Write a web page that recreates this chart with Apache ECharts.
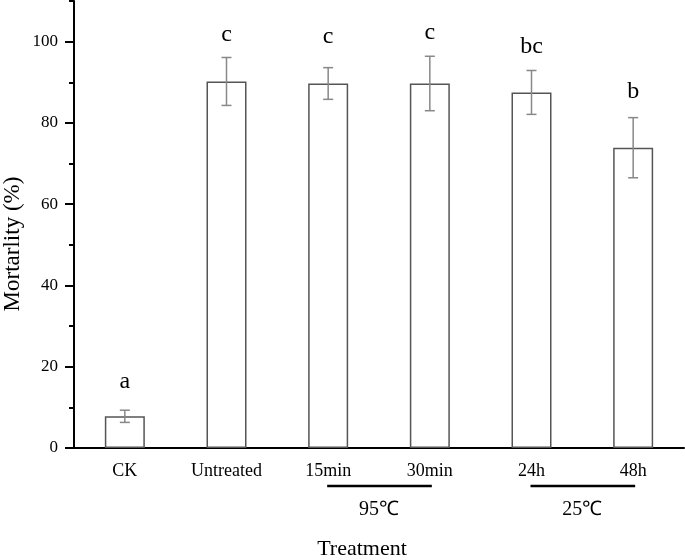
<!DOCTYPE html>
<html>
<head>
<meta charset="utf-8">
<script src="https://cdn.jsdelivr.net/npm/echarts@6/dist/echarts.min.js"></script>
<style>html,body{margin:0;padding:0;background:#fff;}#c{width:685px;height:560px;}</style>
</head>
<body>
<div id="c"></div>
<script>
var categories = ['CK', 'Untreated', '15min', '30min', '24h', '48h'];
var mortality = [7.8, 90.2, 89.7, 89.7, 87.5, 73.9];
var errors = [1.5, 5.9, 3.9, 6.7, 5.4, 7.4];
var letters = ['a', 'c', 'c', 'c', 'bc', 'b'];
var letterHeights = [16.3, 101.7, 101.3, 102.2, 98.8, 87.7];
var yTicks = [0, 20, 40, 60, 80, 100];
var groups = [
  {label: '95\u2103', from: '15min', to: '30min'},
  {label: '25\u2103', from: '24h', to: '48h'}
];

var FONT = "'Liberation Serif', 'Times New Roman', serif";
var chart = echarts.init(document.getElementById('c'), null, {renderer: 'canvas'});

var option = {
  animation: false,
  backgroundColor: '#fff',
  grid: [
    {left: 74, right: 1, top: 1, bottom: 112, containLabel: false},
    {left: 74, right: 1, top: 1 + 447 * 10 / 110, bottom: 112, containLabel: false}
  ],
  xAxis: [
    {
      type: 'category', gridIndex: 0, data: categories, boundaryGap: true,
      axisLine: {lineStyle: {color: '#000', width: 2}},
      axisTick: {alignWithLabel: true, length: 8, lineStyle: {color: '#000', width: 2}},
      axisLabel: {color: '#000', fontFamily: FONT, fontSize: 18, margin: 14}
    },
    {type: 'category', gridIndex: 1, data: categories, show: false}
  ],
  yAxis: [
    {
      type: 'value', gridIndex: 0, min: 0, max: 110, interval: 10,
      axisLine: {show: true, lineStyle: {color: '#000', width: 2}},
      axisTick: {show: true, length: 5, lineStyle: {color: '#000', width: 2}},
      axisLabel: {show: false},
      splitLine: {show: false}
    },
    {
      type: 'value', gridIndex: 1, min: yTicks[0], max: yTicks[yTicks.length - 1], interval: 20,
      axisLine: {show: false},
      axisTick: {show: true, length: 9, lineStyle: {color: '#000', width: 2}},
      axisLabel: {color: '#000', fontFamily: FONT, fontSize: 17, margin: 16},
      splitLine: {show: false}
    }
  ],
  series: [
    {
      type: 'bar', xAxisIndex: 0, yAxisIndex: 0, data: mortality, barWidth: 40,
      itemStyle: {color: '#fff', borderColor: '#555', borderWidth: 1.5}
    },
    {
      type: 'custom', xAxisIndex: 0, yAxisIndex: 0,
      data: mortality.map(function (v, i) { return [i, v, errors[i]]; }),
      renderItem: function (params, api) {
        var i = api.value(0), v = api.value(1), e = api.value(2);
        var top = api.coord([i, v + e]);
        var bot = api.coord([i, v - e]);
        var hw = 5;
        var st = {stroke: '#888', lineWidth: 1.5};
        return {
          type: 'group',
          children: [
            {type: 'line', shape: {x1: top[0], y1: top[1], x2: bot[0], y2: bot[1]}, style: st},
            {type: 'line', shape: {x1: top[0] - hw, y1: top[1], x2: top[0] + hw, y2: top[1]}, style: st},
            {type: 'line', shape: {x1: bot[0] - hw, y1: bot[1], x2: bot[0] + hw, y2: bot[1]}, style: st}
          ]
        };
      },
      z: 5
    },
    {
      type: 'custom', xAxisIndex: 0, yAxisIndex: 0,
      data: letterHeights.map(function (v, i) { return [i, v]; }),
      renderItem: function (params, api) {
        var p = api.coord([api.value(0), api.value(1)]);
        return {
          type: 'text',
          style: {
            x: p[0], y: p[1], text: letters[params.dataIndex],
            fill: '#000', font: '24px ' + FONT, align: 'center', verticalAlign: 'middle'
          }
        };
      },
      z: 6
    }
  ]
};
chart.setOption(option);

var baseY = chart.convertToPixel({xAxisIndex: 0, yAxisIndex: 0}, [0, 0])[1];
var graphics = [];
groups.forEach(function (g) {
  var x1 = chart.convertToPixel({xAxisIndex: 0}, g.from);
  var x2 = chart.convertToPixel({xAxisIndex: 0}, g.to);
  graphics.push({
    type: 'line', shape: {x1: x1 - 1, y1: baseY + 38, x2: x2 + 2, y2: baseY + 38},
    style: {stroke: '#000', lineWidth: 2.5}
  });
  graphics.push({
    type: 'text',
    style: {x: (x1 + x2) / 2, y: baseY + 62, text: g.label, fill: '#000',
            font: '20px ' + FONT, align: 'center', verticalAlign: 'middle'}
  });
});
graphics.push({
  type: 'text',
  style: {x: 362, y: 549, text: 'Treatment', fill: '#000', font: '22px ' + FONT,
          align: 'center', verticalAlign: 'middle'}
});
graphics.push({
  type: 'text', x: 13, y: 244, rotation: Math.PI / 2,
  style: {x: 0, y: 0, text: 'Mortarlity (%)', fill: '#000', font: '23px ' + FONT,
          align: 'center', verticalAlign: 'middle'}
});
chart.setOption({graphic: graphics});
</script>
</body>
</html>
